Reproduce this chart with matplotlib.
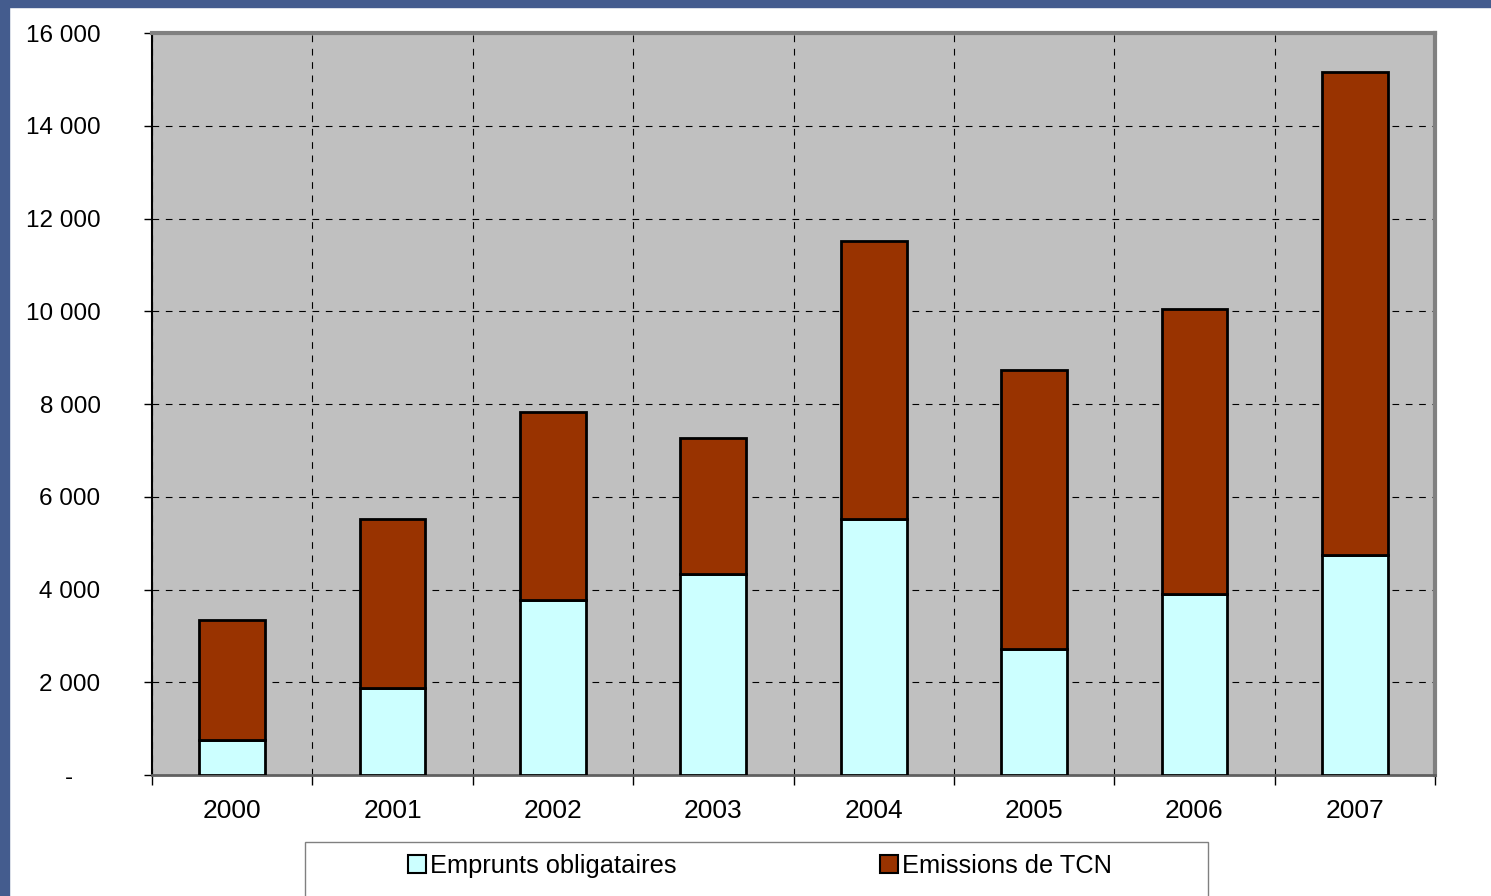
import numpy as np
import matplotlib
matplotlib.use("Agg")
import matplotlib.pyplot as plt
from matplotlib.patches import Rectangle
from matplotlib.ticker import FuncFormatter, MultipleLocator

plt.rcParams["font.family"] = ["Liberation Sans", "DejaVu Sans"]

# ── data (millions) ───────────────────────────────────────────────────────────
years     = ["2000", "2001", "2002", "2003", "2004", "2005", "2006", "2007"]
emprunts  = [750, 1880, 3770, 4330, 5520, 2715, 3900, 4745]
tcn_total = [3340, 5520, 7830, 7270, 11515, 8735, 10050, 15160]
emissions = [t - e for t, e in zip(tcn_total, emprunts)]

C_EMP = "#CCFFFF"
C_TCN = "#993300"
C_BORDER = "#445C8E"

fig = plt.figure(figsize=(14.91, 8.96), dpi=100)

# blue frame on top and left
fig.patches.append(Rectangle((0, 1 - 7 / 896), 1, 7 / 896, transform=fig.transFigure,
                             color=C_BORDER, zorder=0))
fig.patches.append(Rectangle((0, 0), 9 / 1491, 1, transform=fig.transFigure,
                             color=C_BORDER, zorder=0))

ax = fig.add_axes([152 / 1491, 1 - 775 / 896, (1435 - 152) / 1491, (775 - 33) / 896])
ax.set_facecolor("#C0C0C0")

x = np.arange(len(years))
w = 0.41
ax.bar(x, emprunts, w, color=C_EMP, edgecolor="black", lw=2, zorder=3,
       label="Emprunts obligataires")
ax.bar(x, emissions, w, bottom=emprunts, color=C_TCN, edgecolor="black", lw=2,
       zorder=3, label="Emissions de TCN")

ax.set_xlim(-0.5, len(years) - 0.5)
ax.set_ylim(0, 16000)
ax.yaxis.set_major_locator(MultipleLocator(2000))
# Excel accounting style: zero shown as a dash, set in from the right
ax.yaxis.set_major_formatter(FuncFormatter(
    lambda v, p: "-    " if v == 0 else f"{int(v):,}".replace(",", " ")))

# category boundaries carry the x ticks and vertical grid
bounds = np.arange(len(years) + 1) - 0.5
ax.set_xticks(bounds)
ax.set_xticklabels([])
ax.set_xticks(x, minor=True)
ax.set_xticklabels(years, minor=True, fontsize=19)
ax.tick_params(axis="x", which="minor", length=0, pad=17.5)
ax.tick_params(axis="x", which="major", length=7, width=1, direction="out")
ax.tick_params(axis="y", length=6, width=1, labelsize=17.5, pad=31)

ax.grid(True, which="major", color="black", ls=(0, (6, 6)), lw=0.8, zorder=1)

for side in ("top", "right"):
    ax.spines[side].set_color("#808080")
    ax.spines[side].set_linewidth(3)
ax.spines["left"].set_color("black")
ax.spines["left"].set_linewidth(1.5)
ax.spines["bottom"].set_color("#606060")
ax.spines["bottom"].set_linewidth(2)

# legend box, cut by the bottom edge of the image
fig.patches.append(Rectangle((305 / 1491, -0.05), (1208 - 305) / 1491, 0.05 + 1 - 842 / 896,
                             transform=fig.transFigure, fill=False,
                             edgecolor="#808080", lw=1, zorder=1))
leg = fig.legend(loc="center", bbox_to_anchor=(760 / 1491, 1 - 866 / 896), ncol=2,
                 frameon=False, fontsize=18.3, handlelength=0.7, handleheight=0.7,
                 handletextpad=0.15, columnspacing=8.0, borderpad=0)
for h in leg.legend_handles:
    h.set_linewidth(1.5)

fig.savefig("out.png", dpi=100)
print("Saved out.png")
